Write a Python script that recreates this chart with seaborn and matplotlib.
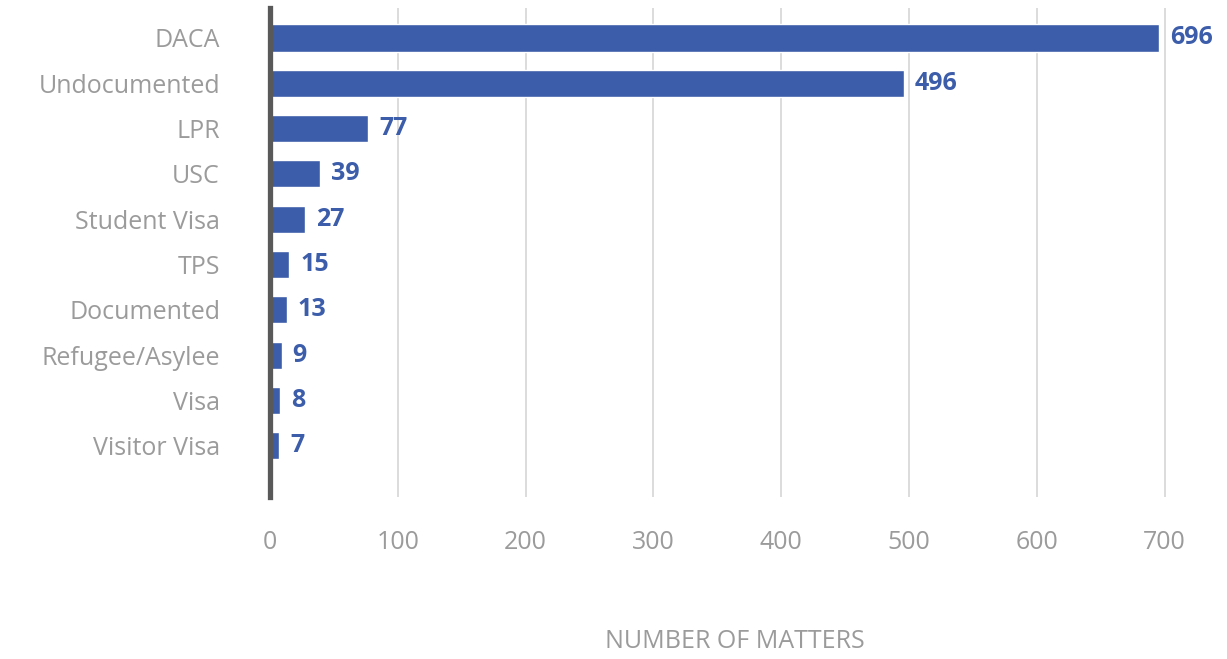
import matplotlib
matplotlib.use("Agg")
import matplotlib.pyplot as plt
import seaborn as sns
import pandas as pd

categories = ["DACA", "Undocumented", "LPR", "USC", "Student Visa", "TPS",
              "Documented", "Refugee/Asylee", "Visa", "Visitor Visa"]
matters = [696, 496, 77, 39, 27, 15, 13, 9, 8, 7]
x_ticks = [0, 100, 200, 300, 400, 500, 600, 700]

BLUE = "#3c5daa"
GREY_TEXT = "#9b9b9b"

sns.set_theme(style="white")
plt.rcParams["font.family"] = ["Open Sans", "DejaVu Sans"]

df = pd.DataFrame({"status": categories, "matters": matters})

fig = plt.figure(figsize=(12.27, 6.59), dpi=100)
ax = fig.add_axes([270 / 1227, 1 - 497 / 659, 930 / 1227, 489 / 659])

sns.barplot(data=df, x="matters", y="status", orient="h", color=BLUE,
            saturation=1, width=0.6, ax=ax, zorder=3)

ax.set_xlim(0, 930 / 1.278)
ax.set_ylim(len(categories) - 1 + 1.13, -0.66)
ax.set_xticks(x_ticks)
ax.xaxis.grid(True, color="#d9d9d9", linewidth=1.3, zorder=0)
ax.yaxis.grid(False)

for s in ["top", "right", "bottom"]:
    ax.spines[s].set_visible(False)
ax.spines["left"].set_color("#595959")
ax.spines["left"].set_linewidth(3.8)
ax.spines["left"].set_zorder(5)

ax.tick_params(axis="y", length=0, pad=36, labelsize=18, labelcolor=GREY_TEXT)
ax.tick_params(axis="x", length=0, pad=24, labelsize=18, labelcolor=GREY_TEXT)
ax.set_ylabel("")
ax.set_xlabel("")
fig.text(ax.get_position().x0 + ax.get_position().width / 2, 1 - 641 / 659,
         "NUMBER OF MATTERS", fontsize=18, color=GREY_TEXT,
         ha="center", va="center")

for i, v in enumerate(matters):
    ax.annotate(str(v), xy=(v, i), xytext=(8, 0), textcoords="offset points",
                va="center", ha="left", fontsize=18, fontweight="bold",
                color=BLUE)

fig.savefig("out.png", dpi=100)
